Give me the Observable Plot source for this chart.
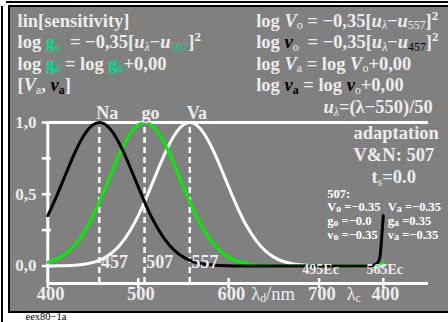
<!DOCTYPE html>
<html><head><meta charset="utf-8">
<script src="https://cdn.jsdelivr.net/npm/d3@7"></script>
<script src="https://cdn.jsdelivr.net/npm/@observablehq/plot@0.6"></script>
<style>
body{margin:0;background:#fff;}
#wrap{position:relative;width:448px;height:322px;overflow:hidden;background:#fff;}
.ln{position:absolute;background:#000;}
#panel{position:absolute;left:8px;top:5px;width:445px;height:303.5px;border:2.5px solid #000;border-right:none;background:#808080;}
#plot{position:absolute;left:0;top:0;}
</style></head><body>
<div id="wrap">
<div class="ln" style="left:1px;top:6px;width:2px;height:316px"></div>
<div class="ln" style="left:6px;top:1px;width:442px;height:1.5px"></div>
<div id="panel"></div>
<div id="plot"></div>
</div>
<script>
// ---- data ----
const wl = [400,410,420,430,440,450,457,460,470,480,490,500,507,510,520,530,540,550,557,560,570,580,590,600,610,620,630,640,650,660,670,680,690,700];
const naD = [0.351,0.491,0.643,0.791,0.911,0.984,1,0.997,0.947,0.843,0.704,0.551,0.447,0.404,0.278,0.180,0.109,0.062,0.040,0.033,0.016,0.008,0.003,0.001,0.0005,0,0,0,0,0,0,0,0,0];
const goD = [0.025,0.048,0.087,0.148,0.235,0.351,0.447,0.491,0.643,0.791,0.911,0.984,1,0.997,0.947,0.843,0.704,0.551,0.447,0.404,0.278,0.180,0.109,0.062,0.033,0.016,0.008,0.003,0.001,0.0005,0,0,0,0];
const vaD = [0.0004,0.0009,0.0024,0.0055,0.012,0.025,0.040,0.048,0.087,0.148,0.235,0.351,0.447,0.491,0.643,0.791,0.911,0.984,1,0.997,0.947,0.843,0.704,0.551,0.404,0.278,0.180,0.109,0.062,0.033,0.016,0.008,0.003,0.001];
// compensation (purple) section, fraction along the λc axis from 700 to 400
const purpleT = [0.25,0.5,0.7,0.8,0.85,0.9,0.93,0.95,0.97,0.985,1];
const naC = [0,0,0,0.002,0.006,0.018,0.035,0.07,0.17,0.26,0.351];
const goC = [0,0,0,0.001,0.003,0.007,0.011,0.015,0.019,0.022,0.025];
const vaC = [0.0008,0.0007,0.0006,0.0005,0.0005,0.0004,0.0004,0.0004,0.0004,0.0004,0.0004];
const peaks = [457, 507, 557];
const peakNames = ["Na", "go", "Va"];
const yTicks = [0, 0.25, 0.5, 0.75, 1];
const yLabels = [0, 0.5, 1];
const yLabelText = ["0,0", "0,5", "1,0"];
const dTicks = [400, 500, 600, 700];
const cEndLabel = "400";
const ecLabels = ["495Ec", "565Ec"];

// ---- layout ----
const W = 448, H = 322, ML = 47.3, MR = 20, MT = 122, MB = 39;
const yMin = -0.122, xMax = 821;
const cStart = 700, cEnd = 771;
const TXT = "#ececec", GR = "#00dd8c", K = "#000", LGREEN = "#00f000";

const rows = [];
const addSeries = (s, dv, cv) => {
  wl.forEach((w, i) => rows.push({s, x: w, v: dv[i]}));
  purpleT.forEach((t, i) => rows.push({s, x: cStart + t * (cEnd - cStart), v: cv[i]}));
};
addSeries("Va", vaD, vaC);
addSeries("go", goD, goC);
addSeries("Na", naD, naC);

const ann = (key, X, Y, size, anchor = "start", fill = TXT, weight = "bold") =>
  Plot.text([key], {text: d => d, frameAnchor: "top-left", dx: X - ML, dy: Y - MT,
    fontSize: size, textAnchor: anchor, fill, fontWeight: weight, lineAnchor: "middle"});

const white = "#ffffff";
const chart = Plot.plot({
  width: W, height: H, marginLeft: ML, marginRight: MR, marginTop: MT, marginBottom: MB,
  x: {domain: [400, xMax], axis: null},
  y: {domain: [yMin, 1], axis: null},
  style: {background: "transparent", fontFamily: "'Liberation Serif', 'DejaVu Serif', serif", overflow: "visible"},
  marks: [
    Plot.ruleX(peaks, {y1: yMin, y2: 1, stroke: white, strokeWidth: 2.5, strokeDasharray: "6,4"}),
    Plot.ruleX([400], {stroke: white, strokeWidth: 3}),
    Plot.ruleY([1], {stroke: white, strokeWidth: 3}),
    Plot.ruleY([yMin], {stroke: white, strokeWidth: 3}),
    Plot.ruleY(yTicks, {x1: 400, x2: 400, insetLeft: -5.5, insetRight: -3.5, stroke: white, strokeWidth: 2.5}),
    Plot.ruleX([...dTicks, cEnd], {y1: yMin, y2: yMin, insetTop: -5, insetBottom: -5, stroke: white, strokeWidth: 2.5}),
    Plot.line(rows.filter(d => d.s === "Va"), {x: "x", y: "v", stroke: white, strokeWidth: 3, curve: "monotone-x"}),
    Plot.line(rows.filter(d => d.s === "go"), {x: "x", y: "v", stroke: LGREEN, strokeWidth: 3, curve: "monotone-x"}),
    Plot.line(rows.filter(d => d.s === "Na"), {x: "x", y: "v", stroke: K, strokeWidth: 3, curve: "monotone-x"}),
    // peak labels
    Plot.text(peaks, {x: d => d, text: (d, i) => peakNames[i], frameAnchor: "top", dy: -16.4, dx: -3, textAnchor: "start", fontSize: 18, fontWeight: "bold", fill: TXT}),
    Plot.text(peaks, {x: d => d, text: d => String(d), frameAnchor: "bottom", dy: -15.5, dx: 1.7, textAnchor: "start", fontSize: 18, fontWeight: "bold", fill: TXT}),
    // y labels
    Plot.text(yLabels, {y: d => d, text: (d, i) => yLabelText[i], frameAnchor: "left", dx: -11.3, textAnchor: "end", fontSize: 17, fontWeight: "bold", fill: TXT}),
    // x labels
    Plot.text([400, 500], {x: d => d, text: d => String(d), frameAnchor: "bottom", dy: 16, dx: 2.7, fontSize: 18.5, fontWeight: "bold", fill: TXT}),
    Plot.text([cEnd], {x: d => d, text: () => cEndLabel, frameAnchor: "bottom", dy: 16, dx: 2.2, fontSize: 18.5, fontWeight: "bold", fill: TXT}),
    Plot.text([{x: 600, k: "@X600"}, {x: 700, k: "@X700"}], {x: "x", text: "k", frameAnchor: "bottom", dy: 16, dx: -11.2, textAnchor: "start", fontSize: 18.5, fontWeight: "bold", fill: TXT}),
    Plot.text([cStart, cEnd], {x: d => d, text: (d, i) => ecLabels[i], frameAnchor: "bottom", dy: -10, dx: 1.5, fontSize: 14, fontWeight: "bold", fill: TXT}),
    // annotations
    ann("lin[sensitivity]", 17, 20.1, 18.5),
    ann("@L2", 17, 41.6, 18.5), ann("@L3", 17, 63.1, 18.5), ann("@L4", 17, 84.6, 18.5),
    ann("@R1", 255.7, 20.1, 18.5), ann("@R2", 255.7, 41.6, 18.5), ann("@R3", 255.7, 63.1, 18.5), ann("@R4", 255.7, 84.6, 18.5),
    ann("@U", 323, 107, 18.5),
    ann("adaptation", 353, 132.4, 18.5), ann("V&N: 507", 353, 155, 18.5), ann("@TS", 371, 176.8, 18.5),
    ann("507:", 326.7, 193.5, 12.5, "start", white),
    ann("@S1a", 326.7, 206, 12.5, "start", white), ann("@S1b", 387.3, 206, 12.5, "start", white),
    ann("@S2a", 326.7, 220, 12.5, "start", white), ann("@S2b", 387.3, 220, 12.5, "start", white),
    ann("@S3a", 326.7, 234, 12.5, "start", white), ann("@S3b", 387.3, 234, 12.5, "start", white),
    ann("eex80−1a", 25, 316.3, 10.5, "start", K, "normal")
  ]
});
document.getElementById("plot").appendChild(chart);

// ---- rich text (subscripts, colours, italics) ----
const I = {i: 1}, SUB = {sub: 1, n: 1};
const rich = {
  "@L2": [["log "], ["g", {c: GR}], ["o", {c: GR, sub: 1, n: 1}], ["= −0,35[", {dx: 9}], ["u", I], ["λ", {sub: 1, i: 1, n: 1}], ["−"], ["u", I], ["507", {c: GR, sub: 1, n: 1}], ["]"], ["2", {sup: 1}]],
  "@L3": [["log "], ["g", {c: GR}], ["a", {c: GR, sub: 1, n: 1}], [" = log "], ["g", {c: GR}], ["o", {c: GR, sub: 1, n: 1}], ["+0,00"]],
  "@L4": [["["], ["V", I], ["a", SUB], [", "], ["v", {i: 1, c: K}], ["a", {sub: 1, c: K}], ["]"]],
  "@R1": [["log "], ["V", I], ["o", SUB], [" = −0,35["], ["u", I], ["λ", {sub: 1, i: 1, n: 1}], ["−"], ["u", I], ["557", SUB], ["]"], ["2", {sup: 1}]],
  "@R2": [["log "], ["v", {i: 1, c: K}], ["o", SUB], ["= −0,35[", {dx: 9}], ["u", I], ["λ", {sub: 1, i: 1, n: 1}], ["−"], ["u", I], ["457", {sub: 1, n: 1, c: K}], ["]"], ["2", {sup: 1}]],
  "@R3": [["log "], ["V", I], ["a", SUB], [" = log "], ["V", I], ["o", SUB], ["+0,00"]],
  "@R4": [["log "], ["v", {i: 1, c: K}], ["a", {sub: 1, c: K}], [" = log "], ["v", {i: 1, c: K}], ["o", SUB], ["+0,00"]],
  "@U": [["u", I], ["λ", {sub: 1, i: 1, n: 1}], ["=(λ−550)/50"]],
  "@TS": [["t"], ["s", SUB], ["=0.0"]],
  "@S1a": [["V"], ["o", {sub: 1}], [" =−0.35"]],
  "@S1b": [["V"], ["a", {sub: 1}], [" =−0.35"]],
  "@S2a": [["g"], ["o", {sub: 1}], [" =−0.0"]],
  "@S2b": [["g"], ["a", {sub: 1}], [" =0.35"]],
  "@S3a": [["v"], ["o", {sub: 1}], [" =−0.35"]],
  "@S3b": [["v"], ["a", {sub: 1}], [" =−0.35"]],
  "@X600": [["600"], ["λ", {n: 1, dx: 6}], ["d", {sub: 1, n: 1}], ["/nm", {n: 1}]],
  "@X700": [["700"], ["λ", {n: 1, dx: 11}], ["c", {sub: 1, n: 1}]]
};
const NS = "http://www.w3.org/2000/svg";
chart.querySelectorAll("text").forEach(t => {
  const segs = rich[t.textContent];
  if (!segs) return;
  const base = parseFloat(getComputedStyle(t).fontSize) || 18.5;
  const small = base < 15;
  t.textContent = "";
  let shift = 0;
  for (const [str, o = {}] of segs) {
    const ts = document.createElementNS(NS, "tspan");
    ts.textContent = str;
    let target = 0, size = base;
    if (o.sub) { target = base * (small ? 0.1 : 0.14); size = base * (small ? 0.8 : 0.64); }
    if (o.sup) { target = -base * 0.36; size = base * 0.7; }
    ts.setAttribute("dy", (target - shift).toFixed(2));
    shift = target;
    if (o.dx) ts.setAttribute("dx", o.dx);
    ts.setAttribute("font-size", size.toFixed(2));
    if (o.c) ts.setAttribute("fill", o.c);
    if (o.i) ts.setAttribute("font-style", "italic");
    if (o.n) ts.setAttribute("font-weight", "normal");
    t.appendChild(ts);
  }
});
</script>
</body></html>
